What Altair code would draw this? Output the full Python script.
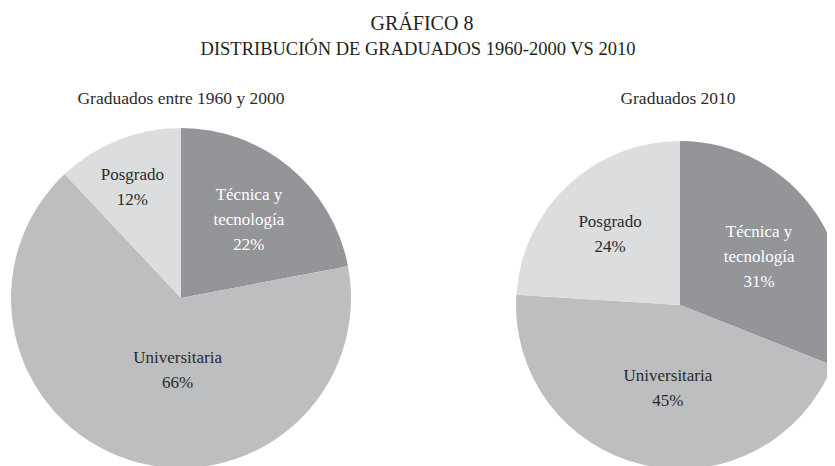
import altair as alt
import pandas as pd

# ---------------- data ----------------
categories = ["Técnica y tecnología", "Universitaria", "Posgrado"]
label_names = ["Técnica y\ntecnología", "Universitaria", "Posgrado"]
values_1960_2000 = [22, 66, 12]
values_2010 = [31, 45, 24]
subtitles = ["Graduados entre 1960 y 2000", "Graduados 2010"]
title_lines = ["GRÁFICO 8", "DISTRIBUCIÓN DE GRADUADOS 1960-2000 VS 2010"]

# ---------------- style ----------------
FONT = "Liberation Serif"
slice_colors = ["#939598", "#bcbec0", "#dcddde"]
text_colors = {"Técnica y tecnología": "#ffffff", "Universitaria": "#2b2b2b", "Posgrado": "#2b2b2b"}
TEXT_DARK = "#2b2b2b"

# pie geometry (view coordinates) and per-label nudges
PIES = [
    dict(values=values_1960_2000, cx=173, cy=290, r=170, rl=105,
         nudge={"Técnica y tecnología": (1, -22), "Universitaria": (29, -39.5), "Posgrado": (-10, -25.5)},
         sub_x=173),
    dict(values=values_2010, cx=672, cy=297, r=164, rl=92,
         nudge={"Técnica y tecnología": (3, -21), "Universitaria": (8, -18.5), "Posgrado": (-7, -15.5)},
         sub_x=670),
]


def pie_df(values):
    return pd.DataFrame({
        "cat": categories,
        "value": values,
        "order": list(range(len(categories))),
        "text": [f"{l}\n{v}%" for l, v in zip(label_names, values)],
    })


theta_scale = alt.Scale(domain=[0, 100])
color_scale = alt.Scale(domain=categories, range=slice_colors)

layers = []
for p in PIES:
    df = pie_df(p["values"])
    arc = alt.Chart(df).mark_arc(radius=p["r"], clip=True).encode(
        theta=alt.Theta("value:Q", stack=True, scale=theta_scale),
        color=alt.Color("cat:N", scale=color_scale, legend=None),
        order=alt.Order("order:Q"),
        x=alt.value(p["cx"]),
        y=alt.value(p["cy"]),
    )
    layers.append(arc)
    for cat in categories:
        dx, dy = p["nudge"][cat]
        txt = (
            alt.Chart(df)
            .transform_window(cum="sum(value)", sort=[alt.SortField("order")])
            .transform_calculate(mid="datum.cum - datum.value / 2")
            .transform_filter(alt.datum.cat == cat)
            .mark_text(font=FONT, fontSize=17, lineBreak="\n", lineHeight=25,
                       align="center", baseline="middle", dx=dx, dy=dy,
                       color=text_colors[cat])
            .encode(
                theta=alt.Theta("mid:Q", stack=False, scale=theta_scale),
                radius=alt.value(p["rl"]),
                x=alt.value(p["cx"]),
                y=alt.value(p["cy"]),
                text="text:N",
            )
        )
        layers.append(txt)

# subtitles
for p, s in zip(PIES, subtitles):
    layers.append(
        alt.Chart(pd.DataFrame({"t": [s]}))
        .mark_text(font=FONT, fontSize=17.5, align="center", baseline="alphabetic", color=TEXT_DARK)
        .encode(x=alt.value(p["sub_x"]), y=alt.value(96), text="t:N")
    )

# title lines
title_pos = [(414, 22, 20), (410, 47, 18.5)]
for line, (tx, ty, fs) in zip(title_lines, title_pos):
    layers.append(
        alt.Chart(pd.DataFrame({"t": [line]}))
        .mark_text(font=FONT, fontSize=fs, align="center", baseline="alphabetic", color="#231f20")
        .encode(x=alt.value(tx), y=alt.value(ty), text="t:N")
    )

chart = (
    alt.layer(*layers)
    .properties(width=819, height=458, padding=0)
    .configure_view(stroke=None)
)

chart.save("out.html", embed_options={"renderer": "svg", "actions": False})
